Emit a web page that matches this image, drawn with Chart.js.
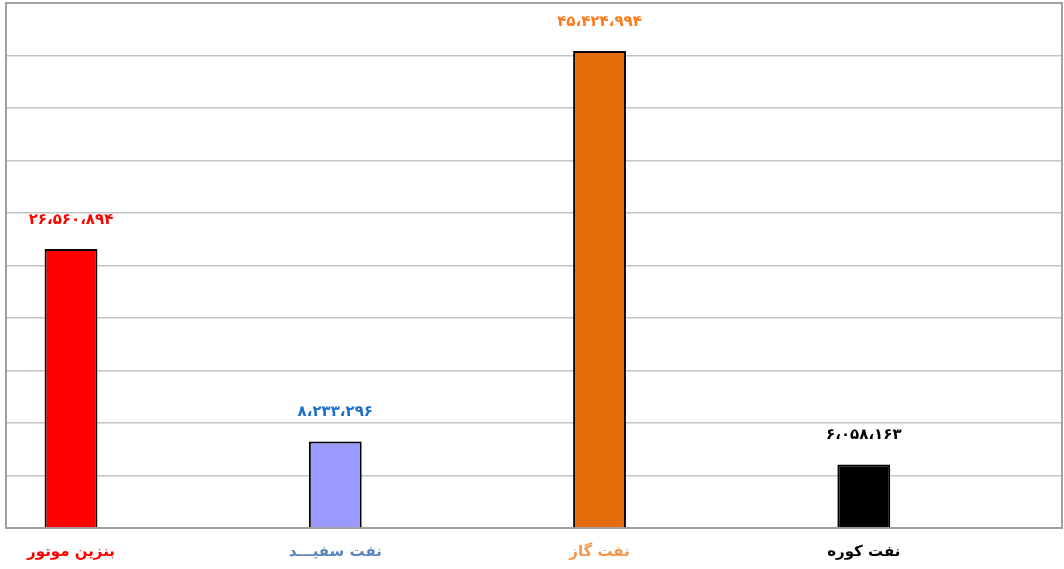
<!DOCTYPE html>
<html>
<head>
<meta charset="utf-8">
<script src="https://cdn.jsdelivr.net/npm/chart.js@4/dist/chart.umd.min.js"></script>
<style>
html,body{margin:0;padding:0;background:#fff;}
#wrap{width:1064px;height:569px;position:relative;}
</style>
</head>
<body>
<div id="wrap"><canvas id="c" width="1064" height="569"></canvas></div>
<script>
const categories = ["بنزین موتور", "نفت سفیـــد", "نفت گاز", "نفت کوره"];
const values = [26560894, 8233296, 45424994, 6058163];
const valueLabels = ["۲۶،۵۶۰،۸۹۴", "۸،۲۳۳،۲۹۶", "۴۵،۴۲۴،۹۹۴", "۶،۰۵۸،۱۶۳"];
const barColors = ["#FF0000", "#9999FF", "#E46C0A", "#000000"];
const valueLabelColors = ["#FF0000", "#1F6FC8", "#FF7A1A", "#000000"];
const categoryColors = ["#FF0000", "#5B87C0", "#F79646", "#000000"];
const yTicks = [0, 5000000, 10000000, 15000000, 20000000, 25000000, 30000000, 35000000, 40000000, 45000000, 50000000];

const valueLabelPlugin = {
  id: 'valueLabels',
  afterDatasetsDraw(chart) {
    const ctx = chart.ctx;
    const meta = chart.getDatasetMeta(0);
    ctx.save();
    ctx.font = 'bold 15px "DejaVu Sans"';
    ctx.textAlign = 'center';
    ctx.textBaseline = 'middle';
    meta.data.forEach((bar, i) => {
      ctx.fillStyle = valueLabelColors[i];
      ctx.fillText(valueLabels[i], bar.x, bar.y - 29);
    });
    ctx.restore();
  }
};

new Chart(document.getElementById('c'), {
  type: 'bar',
  data: {
    datasets: [{
      data: values.map((v, i) => ({x: i, y: v})),
      backgroundColor: barColors,
      borderColor: '#000000',
      borderWidth: 2,
      barPercentage: 0.2,
      categoryPercentage: 1.0
    }]
  },
  options: {
    responsive: false,
    animation: false,
    layout: {padding: {left: 6, right: 2, top: 3, bottom: 7}},
    plugins: {legend: {display: false}, tooltip: {enabled: false}},
    scales: {
      x: {
        type: 'linear',
        offset: false,
        min: -0.246,
        max: 3.75,
        afterFit: (s) => { s.height = 34; },
        grid: {display: false, drawTicks: false, tickLength: 0},
        border: {display: true, color: '#A0A0A0', width: 2},
        ticks: {
          stepSize: 1,
          includeBounds: false,
          padding: 15,
          maxRotation: 0,
          minRotation: 0,
          autoSkip: false,
          font: {family: 'DejaVu Sans', size: 15, weight: 'bold'},
          color: (c) => categoryColors[Math.round(c.tick ? c.tick.value : c.index)] || '#000',
          callback: (v) => categories[Math.round(v)] || ''
        }
      },
      y: {
        min: 0,
        max: 50000000,
        afterBuildTicks: (s) => { s.ticks = yTicks.map(v => ({value: v})); },
        ticks: {display: false},
        grid: {
          color: (c) => (c.tick && c.tick.value === 50000000) ? '#A0A0A0' : '#C4C4C4',
          lineWidth: (c) => (c.tick && c.tick.value === 50000000) ? 2 : 1.5,
          tickLength: 0,
          drawTicks: false
        },
        border: {display: true, color: '#A0A0A0', width: 2}
      },
      y2: {
        position: 'right',
        min: 0,
        max: 50000000,
        ticks: {display: false},
        grid: {drawOnChartArea: false, drawTicks: false, tickLength: 0},
        border: {display: true, color: '#A0A0A0', width: 2}
      }
    }
  },
  plugins: [valueLabelPlugin]
});
</script>
</body>
</html>
